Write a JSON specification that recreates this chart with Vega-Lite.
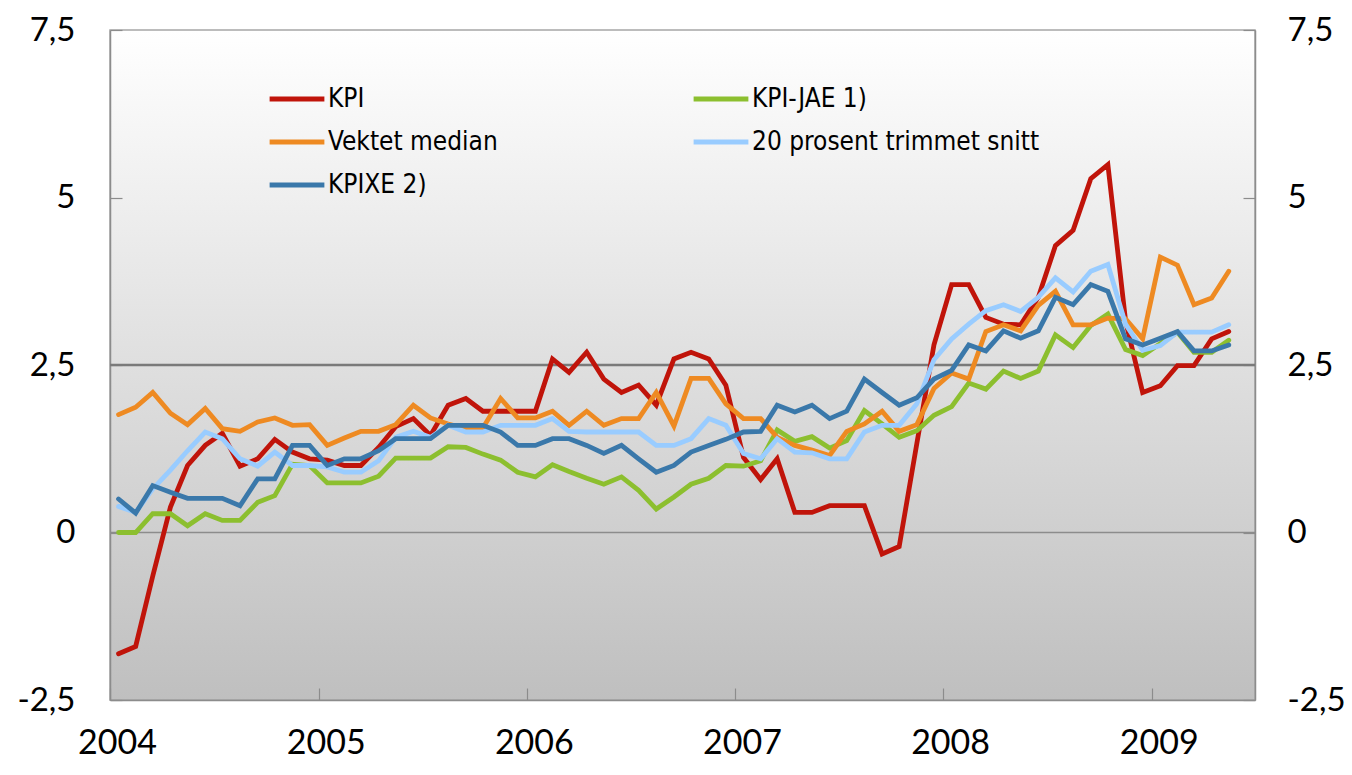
{
  "$schema": "https://vega.github.io/schema/vega-lite/v6.json",
  "width": 1145,
  "height": 670,
  "autosize": {"type": "none"},
  "padding": {"left": 110, "top": 30, "right": 97, "bottom": 75},
  "background": "white",
  "config": {
    "locale": {"number": {"decimal": ",", "thousands": " ", "grouping": [3], "currency": ["", ""], "minus": "-"}},
    "view": {
      "fill": {"gradient": "linear", "x1": 0, "y1": 0, "x2": 0, "y2": 1, "stops": [{"offset": 0, "color": "#ffffff"}, {"offset": 1, "color": "#bfbfbf"}]},
      "stroke": "#a6a6a6",
      "strokeWidth": 1.5
    },
    "font": "Lato",
    "axis": {"labelFont": "Lato", "labelColor": "#000000", "domainColor": "#8c8c8c", "domainWidth": 1.5, "tickColor": "#8c8c8c", "tickWidth": 1.2, "grid": false, "title": null}
  },
  "layer": [
    {
      "data": {"values": [{"ref": 0}, {"ref": 2.5}]},
      "mark": {"type": "rule"},
      "encoding": {
        "y": {
          "field": "ref", "type": "quantitative",
          "scale": {"domain": [-2.5, 7.5], "nice": false, "zero": false},
          "axis": {"orient": "right", "values": [-2.5, 0, 2.5, 5, 7.5], "format": ".1~f", "labelFontSize": 33, "labelPadding": 44, "tickSize": -12, "title": null}
        },
        "strokeWidth": {"condition": {"test": "datum.ref === 2.5", "value": 2.5}, "value": 1.3},
        "color": {"condition": {"test": "datum.ref === 2.5", "value": "#7a7a7a"}, "value": "#8c8c8c"}
      }
    },
    {
      "data": {"values": [
        {"date": "2004/01/16", "KPI": -1.81, "KPI-JAE 1)": 0.0, "Vektet median": 1.76, "20 prosent trimmet snitt": 0.39, "KPIXE 2)": 0.50},
        {"date": "2004/02/15", "KPI": -1.70, "KPI-JAE 1)": 0.0, "Vektet median": 1.87, "20 prosent trimmet snitt": 0.30, "KPIXE 2)": 0.29},
        {"date": "2004/03/16", "KPI": -0.65, "KPI-JAE 1)": 0.28, "Vektet median": 2.09, "20 prosent trimmet snitt": 0.65, "KPIXE 2)": 0.70},
        {"date": "2004/04/16", "KPI": 0.38, "KPI-JAE 1)": 0.28, "Vektet median": 1.78, "20 prosent trimmet snitt": 0.93, "KPIXE 2)": 0.60},
        {"date": "2004/05/16", "KPI": 1.00, "KPI-JAE 1)": 0.10, "Vektet median": 1.61, "20 prosent trimmet snitt": 1.22, "KPIXE 2)": 0.51},
        {"date": "2004/06/16", "KPI": 1.30, "KPI-JAE 1)": 0.28, "Vektet median": 1.85, "20 prosent trimmet snitt": 1.50, "KPIXE 2)": 0.51},
        {"date": "2004/07/16", "KPI": 1.48, "KPI-JAE 1)": 0.18, "Vektet median": 1.55, "20 prosent trimmet snitt": 1.40, "KPIXE 2)": 0.51},
        {"date": "2004/08/16", "KPI": 0.99, "KPI-JAE 1)": 0.18, "Vektet median": 1.51, "20 prosent trimmet snitt": 1.10, "KPIXE 2)": 0.40},
        {"date": "2004/09/16", "KPI": 1.10, "KPI-JAE 1)": 0.45, "Vektet median": 1.65, "20 prosent trimmet snitt": 0.99, "KPIXE 2)": 0.80},
        {"date": "2004/10/16", "KPI": 1.39, "KPI-JAE 1)": 0.55, "Vektet median": 1.71, "20 prosent trimmet snitt": 1.20, "KPIXE 2)": 0.80},
        {"date": "2004/11/16", "KPI": 1.20, "KPI-JAE 1)": 1.02, "Vektet median": 1.60, "20 prosent trimmet snitt": 1.00, "KPIXE 2)": 1.30},
        {"date": "2004/12/16", "KPI": 1.10, "KPI-JAE 1)": 1.00, "Vektet median": 1.61, "20 prosent trimmet snitt": 1.00, "KPIXE 2)": 1.30},
        {"date": "2005/01/16", "KPI": 1.08, "KPI-JAE 1)": 0.74, "Vektet median": 1.30, "20 prosent trimmet snitt": 0.98, "KPIXE 2)": 1.00},
        {"date": "2005/02/15", "KPI": 1.00, "KPI-JAE 1)": 0.74, "Vektet median": 1.41, "20 prosent trimmet snitt": 0.90, "KPIXE 2)": 1.10},
        {"date": "2005/03/16", "KPI": 1.00, "KPI-JAE 1)": 0.74, "Vektet median": 1.51, "20 prosent trimmet snitt": 0.90, "KPIXE 2)": 1.10},
        {"date": "2005/04/16", "KPI": 1.27, "KPI-JAE 1)": 0.84, "Vektet median": 1.51, "20 prosent trimmet snitt": 1.07, "KPIXE 2)": 1.22},
        {"date": "2005/05/16", "KPI": 1.58, "KPI-JAE 1)": 1.11, "Vektet median": 1.61, "20 prosent trimmet snitt": 1.42, "KPIXE 2)": 1.40},
        {"date": "2005/06/16", "KPI": 1.70, "KPI-JAE 1)": 1.11, "Vektet median": 1.90, "20 prosent trimmet snitt": 1.51, "KPIXE 2)": 1.40},
        {"date": "2005/07/16", "KPI": 1.45, "KPI-JAE 1)": 1.11, "Vektet median": 1.71, "20 prosent trimmet snitt": 1.42, "KPIXE 2)": 1.40},
        {"date": "2005/08/16", "KPI": 1.90, "KPI-JAE 1)": 1.28, "Vektet median": 1.62, "20 prosent trimmet snitt": 1.60, "KPIXE 2)": 1.60},
        {"date": "2005/09/16", "KPI": 2.00, "KPI-JAE 1)": 1.27, "Vektet median": 1.55, "20 prosent trimmet snitt": 1.50, "KPIXE 2)": 1.60},
        {"date": "2005/10/16", "KPI": 1.81, "KPI-JAE 1)": 1.17, "Vektet median": 1.56, "20 prosent trimmet snitt": 1.50, "KPIXE 2)": 1.60},
        {"date": "2005/11/16", "KPI": 1.81, "KPI-JAE 1)": 1.08, "Vektet median": 2.00, "20 prosent trimmet snitt": 1.60, "KPIXE 2)": 1.50},
        {"date": "2005/12/16", "KPI": 1.81, "KPI-JAE 1)": 0.90, "Vektet median": 1.71, "20 prosent trimmet snitt": 1.60, "KPIXE 2)": 1.30},
        {"date": "2006/01/16", "KPI": 1.81, "KPI-JAE 1)": 0.83, "Vektet median": 1.71, "20 prosent trimmet snitt": 1.60, "KPIXE 2)": 1.30},
        {"date": "2006/02/15", "KPI": 2.59, "KPI-JAE 1)": 1.01, "Vektet median": 1.81, "20 prosent trimmet snitt": 1.70, "KPIXE 2)": 1.40},
        {"date": "2006/03/16", "KPI": 2.39, "KPI-JAE 1)": 0.91, "Vektet median": 1.60, "20 prosent trimmet snitt": 1.51, "KPIXE 2)": 1.40},
        {"date": "2006/04/16", "KPI": 2.69, "KPI-JAE 1)": 0.81, "Vektet median": 1.81, "20 prosent trimmet snitt": 1.50, "KPIXE 2)": 1.30},
        {"date": "2006/05/16", "KPI": 2.29, "KPI-JAE 1)": 0.72, "Vektet median": 1.60, "20 prosent trimmet snitt": 1.50, "KPIXE 2)": 1.18},
        {"date": "2006/06/16", "KPI": 2.09, "KPI-JAE 1)": 0.83, "Vektet median": 1.70, "20 prosent trimmet snitt": 1.50, "KPIXE 2)": 1.30},
        {"date": "2006/07/16", "KPI": 2.20, "KPI-JAE 1)": 0.63, "Vektet median": 1.70, "20 prosent trimmet snitt": 1.50, "KPIXE 2)": 1.10},
        {"date": "2006/08/16", "KPI": 1.90, "KPI-JAE 1)": 0.35, "Vektet median": 2.09, "20 prosent trimmet snitt": 1.30, "KPIXE 2)": 0.90},
        {"date": "2006/09/16", "KPI": 2.59, "KPI-JAE 1)": 0.53, "Vektet median": 1.59, "20 prosent trimmet snitt": 1.30, "KPIXE 2)": 1.00},
        {"date": "2006/10/16", "KPI": 2.69, "KPI-JAE 1)": 0.72, "Vektet median": 2.30, "20 prosent trimmet snitt": 1.40, "KPIXE 2)": 1.20},
        {"date": "2006/11/16", "KPI": 2.59, "KPI-JAE 1)": 0.81, "Vektet median": 2.30, "20 prosent trimmet snitt": 1.70, "KPIXE 2)": 1.30},
        {"date": "2006/12/16", "KPI": 2.20, "KPI-JAE 1)": 1.00, "Vektet median": 1.92, "20 prosent trimmet snitt": 1.60, "KPIXE 2)": 1.39},
        {"date": "2007/01/16", "KPI": 1.12, "KPI-JAE 1)": 0.99, "Vektet median": 1.70, "20 prosent trimmet snitt": 1.18, "KPIXE 2)": 1.50},
        {"date": "2007/02/15", "KPI": 0.79, "KPI-JAE 1)": 1.07, "Vektet median": 1.70, "20 prosent trimmet snitt": 1.10, "KPIXE 2)": 1.51},
        {"date": "2007/03/16", "KPI": 1.10, "KPI-JAE 1)": 1.53, "Vektet median": 1.42, "20 prosent trimmet snitt": 1.40, "KPIXE 2)": 1.90},
        {"date": "2007/04/16", "KPI": 0.30, "KPI-JAE 1)": 1.36, "Vektet median": 1.30, "20 prosent trimmet snitt": 1.20, "KPIXE 2)": 1.80},
        {"date": "2007/05/16", "KPI": 0.30, "KPI-JAE 1)": 1.43, "Vektet median": 1.23, "20 prosent trimmet snitt": 1.19, "KPIXE 2)": 1.90},
        {"date": "2007/06/16", "KPI": 0.40, "KPI-JAE 1)": 1.26, "Vektet median": 1.15, "20 prosent trimmet snitt": 1.10, "KPIXE 2)": 1.70},
        {"date": "2007/07/16", "KPI": 0.40, "KPI-JAE 1)": 1.37, "Vektet median": 1.51, "20 prosent trimmet snitt": 1.10, "KPIXE 2)": 1.81},
        {"date": "2007/08/16", "KPI": 0.40, "KPI-JAE 1)": 1.82, "Vektet median": 1.62, "20 prosent trimmet snitt": 1.50, "KPIXE 2)": 2.29},
        {"date": "2007/09/16", "KPI": -0.32, "KPI-JAE 1)": 1.62, "Vektet median": 1.81, "20 prosent trimmet snitt": 1.60, "KPIXE 2)": 2.09},
        {"date": "2007/10/16", "KPI": -0.21, "KPI-JAE 1)": 1.42, "Vektet median": 1.51, "20 prosent trimmet snitt": 1.60, "KPIXE 2)": 1.90},
        {"date": "2007/11/16", "KPI": 1.33, "KPI-JAE 1)": 1.52, "Vektet median": 1.61, "20 prosent trimmet snitt": 1.92, "KPIXE 2)": 2.01},
        {"date": "2007/12/16", "KPI": 2.80, "KPI-JAE 1)": 1.75, "Vektet median": 2.15, "20 prosent trimmet snitt": 2.58, "KPIXE 2)": 2.29},
        {"date": "2008/01/16", "KPI": 3.70, "KPI-JAE 1)": 1.88, "Vektet median": 2.38, "20 prosent trimmet snitt": 2.89, "KPIXE 2)": 2.42},
        {"date": "2008/02/15", "KPI": 3.70, "KPI-JAE 1)": 2.23, "Vektet median": 2.29, "20 prosent trimmet snitt": 3.11, "KPIXE 2)": 2.80},
        {"date": "2008/03/16", "KPI": 3.21, "KPI-JAE 1)": 2.14, "Vektet median": 3.00, "20 prosent trimmet snitt": 3.31, "KPIXE 2)": 2.71},
        {"date": "2008/04/16", "KPI": 3.11, "KPI-JAE 1)": 2.41, "Vektet median": 3.10, "20 prosent trimmet snitt": 3.40, "KPIXE 2)": 3.01},
        {"date": "2008/05/16", "KPI": 3.10, "KPI-JAE 1)": 2.30, "Vektet median": 3.01, "20 prosent trimmet snitt": 3.30, "KPIXE 2)": 2.90},
        {"date": "2008/06/16", "KPI": 3.51, "KPI-JAE 1)": 2.41, "Vektet median": 3.39, "20 prosent trimmet snitt": 3.51, "KPIXE 2)": 3.01},
        {"date": "2008/07/16", "KPI": 4.28, "KPI-JAE 1)": 2.95, "Vektet median": 3.60, "20 prosent trimmet snitt": 3.80, "KPIXE 2)": 3.51},
        {"date": "2008/08/16", "KPI": 4.51, "KPI-JAE 1)": 2.76, "Vektet median": 3.10, "20 prosent trimmet snitt": 3.59, "KPIXE 2)": 3.40},
        {"date": "2008/09/16", "KPI": 5.28, "KPI-JAE 1)": 3.09, "Vektet median": 3.10, "20 prosent trimmet snitt": 3.90, "KPIXE 2)": 3.70},
        {"date": "2008/10/16", "KPI": 5.49, "KPI-JAE 1)": 3.26, "Vektet median": 3.20, "20 prosent trimmet snitt": 4.00, "KPIXE 2)": 3.60},
        {"date": "2008/11/16", "KPI": 3.16, "KPI-JAE 1)": 2.73, "Vektet median": 3.19, "20 prosent trimmet snitt": 3.11, "KPIXE 2)": 2.89},
        {"date": "2008/12/16", "KPI": 2.09, "KPI-JAE 1)": 2.64, "Vektet median": 2.89, "20 prosent trimmet snitt": 2.72, "KPIXE 2)": 2.80},
        {"date": "2009/01/16", "KPI": 2.19, "KPI-JAE 1)": 2.82, "Vektet median": 4.11, "20 prosent trimmet snitt": 2.79, "KPIXE 2)": 2.90},
        {"date": "2009/02/15", "KPI": 2.49, "KPI-JAE 1)": 2.99, "Vektet median": 3.99, "20 prosent trimmet snitt": 2.99, "KPIXE 2)": 3.00},
        {"date": "2009/03/16", "KPI": 2.49, "KPI-JAE 1)": 2.69, "Vektet median": 3.40, "20 prosent trimmet snitt": 2.99, "KPIXE 2)": 2.71},
        {"date": "2009/04/16", "KPI": 2.89, "KPI-JAE 1)": 2.69, "Vektet median": 3.50, "20 prosent trimmet snitt": 2.99, "KPIXE 2)": 2.71},
        {"date": "2009/05/16", "KPI": 3.00, "KPI-JAE 1)": 2.87, "Vektet median": 3.90, "20 prosent trimmet snitt": 3.10, "KPIXE 2)": 2.80}
      ]},
      "transform": [{"fold": ["KPI", "KPI-JAE 1)", "Vektet median", "20 prosent trimmet snitt", "KPIXE 2)"], "as": ["serie", "verdi"]}],
      "mark": {"type": "line", "strokeWidth": 4.8, "strokeJoin": "miter", "strokeCap": "round"},
      "encoding": {
        "x": {
          "field": "date", "type": "temporal",
          "scale": {"domain": [{"year": 2004, "month": 1, "date": 1}, {"year": 2009, "month": 7, "date": 1}]},
          "axis": {
            "values": [{"year": 2004, "month": 1, "date": 1}, {"year": 2005, "month": 1, "date": 1}, {"year": 2006, "month": 1, "date": 1}, {"year": 2007, "month": 1, "date": 1}, {"year": 2008, "month": 1, "date": 1}, {"year": 2009, "month": 1, "date": 1}],
            "format": "%Y", "labelFontSize": 34, "labelPadding": 38, "labelOffset": 7, "tickSize": -12, "labelFlush": false, "title": null
          }
        },
        "y": {
          "field": "verdi", "type": "quantitative",
          "scale": {"domain": [-2.5, 7.5], "nice": false, "zero": false},
          "axis": {"orient": "left", "values": [-2.5, 0, 2.5, 5, 7.5], "format": ".1~f", "labelFontSize": 33, "labelPadding": 47, "tickSize": -12, "title": null}
        },
        "color": {
          "field": "serie", "type": "nominal",
          "scale": {"domain": ["KPI", "Vektet median", "KPIXE 2)", "KPI-JAE 1)", "20 prosent trimmet snitt"], "range": ["#c0140a", "#ee8a22", "#3a78aa", "#8cbf2f", "#99ccff"]},
          "legend": {
            "orient": "none", "legendX": 157, "legendY": 39, "columns": 2, "columnPadding": 185, "rowPadding": -7,
            "symbolType": "stroke", "symbolSize": 3000, "symbolStrokeWidth": 5, "labelOffset": 1,
            "labelFont": "DejaVu Sans Condensed, Liberation Sans Narrow, Roboto", "labelFontSize": 26, "labelColor": "#000000", "labelLimit": 500, "title": null
          }
        }
      }
    }
  ],
  "resolve": {"scale": {"y": "independent"}}
}
